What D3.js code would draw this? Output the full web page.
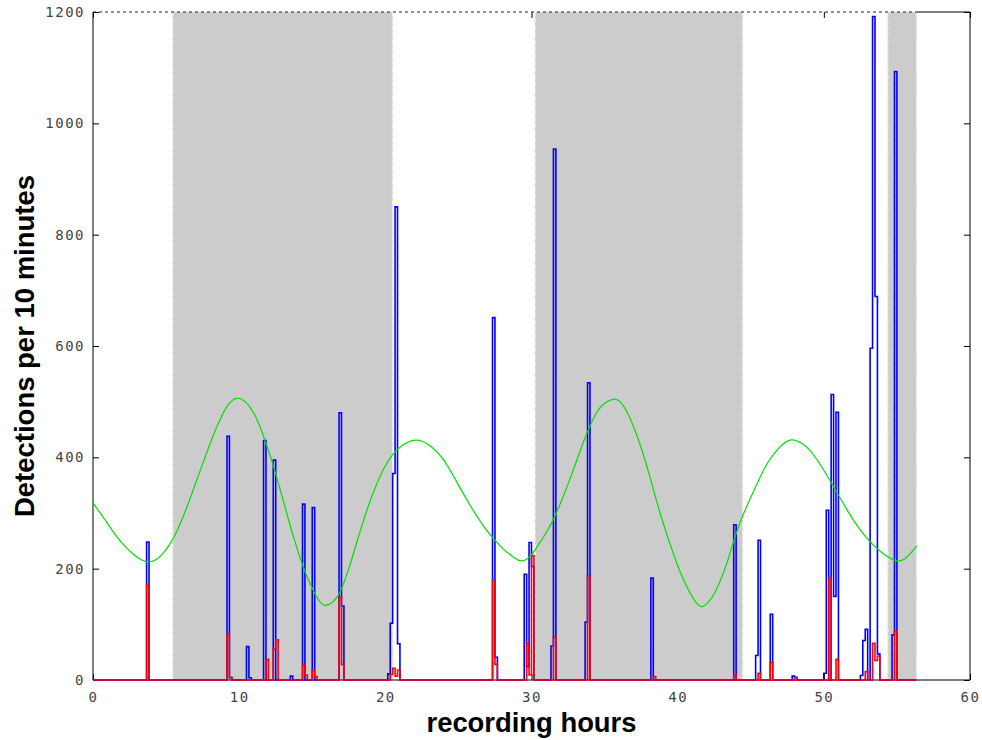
<!DOCTYPE html>
<html>
<head>
<meta charset="utf-8">
<script src="https://cdn.jsdelivr.net/npm/d3@7/dist/d3.min.js"></script>
<style>
  body { margin: 0; background: #fff; }
  .tick text { font-family: "DejaVu Sans Mono", monospace; font-size: 14px; fill: #444; letter-spacing: 1.5px; }
  .tick line { stroke: #000; stroke-width: 1; }
  .title { font-family: "Liberation Sans", Arial, sans-serif; font-weight: bold; fill: #000; }
</style>
</head>
<body>
<svg id="chart" width="982" height="740"></svg>
<script>
// Recording split into 10-minute bins; bin k covers hours [k/6, (k+1)/6)
const binsPerHour = 6;
const nBins = 338;

// Total detections per bin (only non-zero bins listed)
const blueBin = [22, 55, 56, 63, 64, 70, 74, 81, 86, 90, 101, 102, 121, 122, 123, 124, 125,
  164, 165, 177, 178, 179, 180, 188, 189, 202, 203, 229, 263, 272, 273, 278, 287, 288,
  300, 301, 303, 304, 305, 315, 316, 317, 319, 320, 321, 322, 328, 329];
const blueVal = [248, 438, 4, 60, 4, 430, 395, 7, 316, 310, 480, 133, 11, 102, 371, 850, 65,
  651, 41, 190, 24, 247, 204, 61, 954, 104, 534, 183, 279, 44, 251, 118, 7, 5,
  12, 305, 513, 150, 481, 8, 71, 91, 596, 1192, 689, 47, 81, 1093];

// Second detection class per bin (only non-zero bins listed)
const redBin = [22, 55, 56, 71, 74, 75, 86, 87, 90, 91, 101, 102, 122, 123, 124, 125,
  164, 165, 178, 179, 180, 189, 203, 230, 263, 273, 278, 288, 302, 305, 317, 320, 321, 322, 329];
const redVal = [171, 82, 5, 37, 56, 72, 27, 9, 17, 6, 149, 28, 10, 21, 7, 18,
  180, 28, 66, 9, 223, 77, 187, 6, 9, 12, 31, 4, 183, 37, 15, 66, 35, 43, 88];

// Smooth activity model (hour, detections)
const curveHour = [0, 1, 1.85, 2.8, 3.3, 3.78, 4.3, 4.8, 5.3, 5.8, 6.4, 7.0, 7.6, 8.2, 8.8, 9.3, 9.83,
  10.4, 10.97, 11.5, 12.11, 12.7, 13.25, 13.8, 14.39, 14.9, 15.4, 15.87, 16.4, 16.9, 17.5, 18.1,
  18.7, 19.3, 19.9, 20.5, 21.2, 22.1, 23.05, 24.0, 24.9, 25.8, 26.9, 28.0, 28.7, 29.3, 29.9,
  30.4, 30.9, 31.5, 32.1, 32.6, 33.2, 33.8, 34.4, 34.9, 35.55, 36.05, 36.6, 37.2, 37.8, 38.33,
  38.9, 39.47, 40.05, 40.62, 41.1, 41.6, 42.1, 42.6, 43.3, 43.9, 44.45, 45.0, 45.6, 46.2, 46.9,
  47.7, 48.6, 49.39, 50.54, 51.67, 52.81, 53.96, 54.87, 55.55, 56.37];
const curveVal = [318, 281, 250, 225, 216, 212, 216, 228, 246, 271, 309, 352, 395, 438, 474, 496, 506,
  500, 481, 450, 404, 352, 300, 250, 203, 170, 145, 134, 140, 158, 200, 252,
  302, 345, 380, 405, 422, 431, 421, 395, 355, 314, 270, 237, 222, 214, 222,
  240, 260, 289, 325, 359, 402, 444, 478, 495, 504, 500, 478, 440, 392, 343,
  291, 245, 202, 168, 145, 132, 140, 160, 205, 255, 295, 328, 362, 392, 416,
  431, 423, 401, 353, 302, 259, 229, 215, 218, 241];

// Night periods (hours)
const nightStart = [5.45, 30.24, 54.37];
const nightEnd = [20.5, 44.45, 56.35];

const xTicks = [0, 10, 20, 30, 40, 50, 60];
const yTicks = [0, 200, 400, 600, 800, 1000, 1200];

const svg = d3.select("#chart");
const x = d3.scaleLinear().domain([0, 60]).range([93, 970]);
const y = d3.scaleLinear().domain([0, 1200]).range([680, 12]);
const fmt = d3.format("d");

// Axes with inward ticks (drawn first so the shading covers them)
const gx = svg.append("g").attr("transform", `translate(0,${y(0)})`)
  .call(d3.axisBottom(x).tickValues(xTicks).tickFormat(fmt).tickSize(-6).tickPadding(12));
const gy = svg.append("g").attr("transform", `translate(${x(0)},0)`)
  .call(d3.axisLeft(y).tickValues(yTicks).tickFormat(fmt).tickSize(-6).tickPadding(8));
const gt = svg.append("g").attr("transform", `translate(0,${y(1200)})`)
  .call(d3.axisTop(x).tickValues(xTicks).tickSize(-6).tickFormat(""));
const gr = svg.append("g").attr("transform", `translate(${x(60)},0)`)
  .call(d3.axisRight(y).tickValues(yTicks).tickSize(-6).tickFormat(""));
[gx, gy, gt, gr].forEach(g => g.select(".domain").remove());

// Night shading
const nights = nightStart.map((s, i) => ({ s, e: nightEnd[i] }));
svg.append("g").selectAll("rect").data(nights).join("rect")
  .attr("x", d => x(d.s)).attr("y", y(1200))
  .attr("width", d => x(d.e) - x(d.s)).attr("height", y(0) - y(1200))
  .attr("fill", "#cccccc");
const edges = nights.flatMap(d => [d.s, d.e]);
svg.append("g").selectAll("line").data(edges).join("line")
  .attr("x1", d => x(d)).attr("x2", d => x(d))
  .attr("y1", y(1200)).attr("y2", y(0))
  .attr("stroke", "#eeeeee").attr("stroke-width", 1.5).attr("stroke-dasharray", "4,3");

// Plot frame
const frame = svg.append("g").attr("fill", "none");
frame.append("line").attr("x1", x(0)).attr("x2", x(0)).attr("y1", y(0)).attr("y2", y(1200)).attr("stroke", "#000");
frame.append("line").attr("x1", x(60)).attr("x2", x(60)).attr("y1", y(0)).attr("y2", y(1200)).attr("stroke", "#000");
frame.append("line").attr("x1", x(0)).attr("x2", x(60)).attr("y1", y(0)).attr("y2", y(0)).attr("stroke", "#000");
frame.append("line").attr("x1", x(0)).attr("x2", x(nightEnd[2])).attr("y1", y(1200)).attr("y2", y(1200))
  .attr("stroke", "#222").attr("stroke-width", 1.2).attr("stroke-dasharray", "3,3");
frame.append("line").attr("x1", x(nightEnd[2])).attr("x2", x(60)).attr("y1", y(1200)).attr("y2", y(1200)).attr("stroke", "#000");

// Step histogram series
function steps(bins, vals) {
  const full = new Array(nBins).fill(0);
  bins.forEach((b, i) => { full[b] = vals[i]; });
  const pts = full.map((v, i) => [i / binsPerHour, v]);
  pts.push([nBins / binsPerHour, full[nBins - 1]]);
  return pts;
}
const stepLine = d3.line().x(d => x(d[0])).y(d => y(d[1])).curve(d3.curveStepAfter);

svg.append("path").datum(steps(blueBin, blueVal))
  .attr("d", stepLine).attr("fill", "none").attr("stroke", "#0000ff").attr("stroke-width", 1.6);
svg.append("path").datum(steps(redBin, redVal))
  .attr("d", stepLine).attr("fill", "none").attr("stroke", "#ff0000").attr("stroke-width", 1.6);

// Model curve
const curvePts = curveHour.map((h, i) => [h, curveVal[i]]);
svg.append("path").datum(curvePts)
  .attr("d", d3.line().x(d => x(d[0])).y(d => y(d[1])).curve(d3.curveNatural))
  .attr("fill", "none").attr("stroke", "#00e000").attr("stroke-width", 1.2);

// Axis titles
svg.append("text").attr("class", "title")
  .attr("x", (x(0) + x(60)) / 2).attr("y", 732)
  .attr("text-anchor", "middle").attr("font-size", 27)
  .attr("textLength", 210).attr("lengthAdjust", "spacingAndGlyphs")
  .text("recording hours");
svg.append("text").attr("class", "title")
  .attr("transform", `translate(34,${(y(0) + y(1200)) / 2}) rotate(-90)`)
  .attr("text-anchor", "middle").attr("font-size", 28)
  .attr("textLength", 342).attr("lengthAdjust", "spacingAndGlyphs")
  .text("Detections per 10 minutes");
</script>
</body>
</html>
